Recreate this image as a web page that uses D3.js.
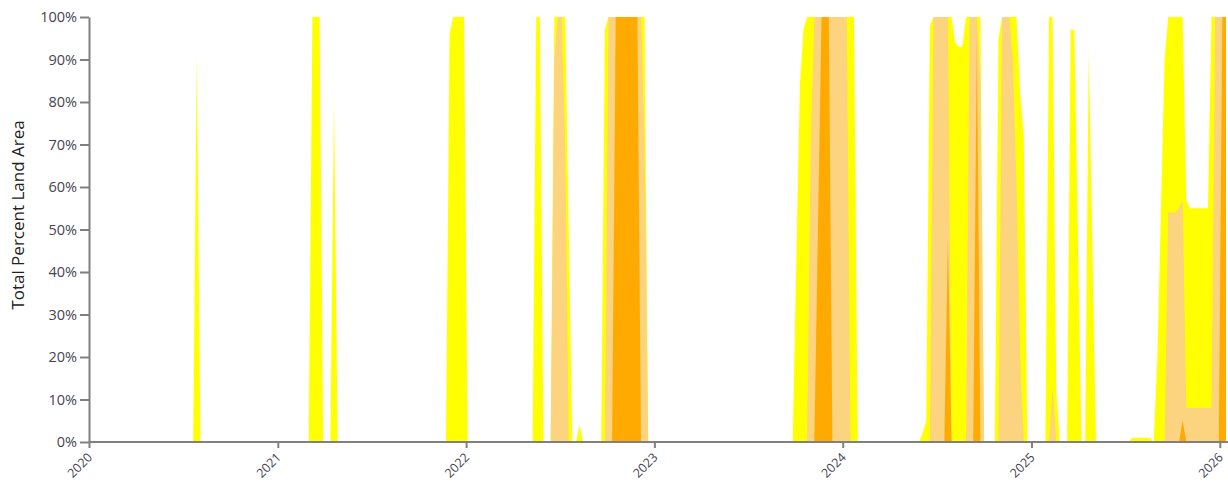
<!DOCTYPE html>
<html>
<head>
<meta charset="utf-8">
<script src="https://cdn.jsdelivr.net/npm/d3@7"></script>
<style>
  body { margin: 0; background: #fff; }
  svg { display: block; }
  .axis text { font-family: "Open Sans", sans-serif; font-size: 14.5px; fill: #454552; }
  .axis.x text { font-size: 12.5px; }
  .axis path, .axis line { stroke: #808080; stroke-width: 2; }
  .ytitle { font-family: "Open Sans", sans-serif; font-size: 17px; fill: #222; }
</style>
</head>
<body>
<svg id="chart" width="1228" height="483"></svg>
<script>
// ---- data ----
// weekly drought-map dates: week index n = firstWeek + 7*n days
const firstWeek = "2020-01-07";
const weekCount = 315;
const xDomain = ["2020-01-01", "2026-01-13"];
const yearTicks = ["2020", "2021", "2022", "2023", "2024", "2025", "2026"];
const yTickValues = [0, 10, 20, 30, 40, 50, 60, 70, 80, 90, 100];
const seriesNames = ["D0", "D1", "D2"];

// [week index, cumulative percent area] for weeks that are not 0
const d0Points = [
  [29,91],
  [61,100],[62,100],[63,100],
  [67,80],
  [99,96],[100,100],[101,100],[102,100],[103,100],
  [123,100],[124,100],
  [128,100],[129,100],[130,100],[131,100],[132,50],
  [135,4],
  [142,97],[143,100],[144,100],[145,100],[146,100],[147,100],[148,100],[149,100],[150,100],[151,100],[152,100],[153,100],
  [195,42],[196,84],[197,97],[198,100],[199,100],[200,100],[201,100],[202,100],[203,100],[204,100],[205,100],[206,100],[207,100],[208,100],[209,100],[210,100],[211,100],
  [230,2],[231,5],[232,98],[233,100],[234,100],[235,100],[236,100],[237,100],[238,100],[239,94],[240,93],[241,93],[242,100],[243,100],[244,100],[245,100],[246,100],
  [251,95],[252,100],[253,100],[254,100],[255,100],[256,100],[257,82],[258,72],
  [265,100],[266,100],[267,12],
  [271,97],[272,97],[273,48],
  [276,92],[277,46],
  [288,1],[289,1],[290,1],[291,1],[292,1],[293,1],
  [295,20],[296,55],[297,90],[298,100],[299,100],[300,100],[301,100],[302,100],[303,57],[304,55],[305,55],[306,55],[307,55],[308,55],[309,55],[310,100],[311,100],[312,100],[313,100],[314,100]
];
const d1Points = [
  [128,90],[129,100],[130,100],[131,70],
  [143,100],[144,100],[145,100],[146,100],[147,100],[148,100],[149,100],[150,100],[151,100],[152,100],[153,70],
  [199,70],[200,100],[201,100],[202,100],[203,100],[204,100],[205,100],[206,100],[207,100],[208,100],[209,100],
  [233,100],[234,100],[235,100],[236,100],[237,100],
  [243,100],[244,100],[245,100],[246,85],
  [252,100],[253,100],[254,100],[255,90],[256,60],[257,20],
  [266,13],
  [298,54],[299,54],[300,54],[301,55],[302,57],[303,8],[304,8],[305,8],[306,8],[307,8],[308,8],[309,8],[310,8],[311,100],[312,100],[313,100],[314,100]
];
const d2Points = [
  [145,100],[146,100],[147,100],[148,100],[149,100],[150,100],[151,100],
  [201,50],[202,100],[203,100],[204,100],
  [237,48],
  [245,95],
  [302,5],
  [313,100],[314,100]
];
const seriesColors = ["#FFFF00", "#FCD37F", "#FFAA00"];

// ---- chart ----
const svg = d3.select("#chart");
const mLeft = 89, mRight = 1226, mTop = 17, mBottom = 442;
const parse = d3.utcParse("%Y-%m-%d");
const start = parse(firstWeek);
const weeks = d3.range(weekCount).map(i => d3.utcDay.offset(start, 7 * i));

const x = d3.scaleUtc().domain(xDomain.map(parse)).range([mLeft, mRight]);
const y = d3.scaleLinear().domain([0, 100]).range([mBottom, mTop]);

function fullSeries(points) {
  const vals = new Array(weekCount).fill(0);
  points.forEach(([i, v]) => { vals[i] = v; });
  return weeks.map((d, i) => ({ date: d, value: vals[i] }));
}

const area = d3.area()
  .x(d => x(d.date))
  .y0(y(0))
  .y1(d => y(d.value))
  .curve(d3.curveLinear);

[d0Points, d1Points, d2Points].forEach((pts, k) => {
  svg.append("path")
    .datum(fullSeries(pts))
    .attr("class", "area " + seriesNames[k])
    .attr("fill", seriesColors[k])
    .attr("d", area);
});

// y axis
svg.append("g")
  .attr("class", "axis y")
  .attr("transform", `translate(${mLeft},0)`)
  .call(d3.axisLeft(y).tickValues(yTickValues).tickFormat(d => d + "%").tickSize(9).tickSizeOuter(0).tickPadding(3));

// x axis
const xAxis = svg.append("g")
  .attr("class", "axis x")
  .attr("transform", `translate(0,${mBottom})`)
  .call(d3.axisBottom(x).tickValues(yearTicks.map(s => d3.utcParse("%Y")(s))).tickFormat(d3.utcFormat("%Y")).tickSize(6).tickSizeOuter(0));
xAxis.select(".domain").attr("d", `M${mLeft},0H1228`);
xAxis.selectAll("text")
  .attr("x", -9)
  .attr("y", 14)
  .attr("dy", 0)
  .style("text-anchor", "end")
  .attr("transform", "rotate(-45)");

svg.append("text")
  .attr("class", "ytitle")
  .attr("transform", "translate(24,215) rotate(-90)")
  .attr("text-anchor", "middle")
  .text("Total Percent Land Area");
</script>
</body>
</html>
